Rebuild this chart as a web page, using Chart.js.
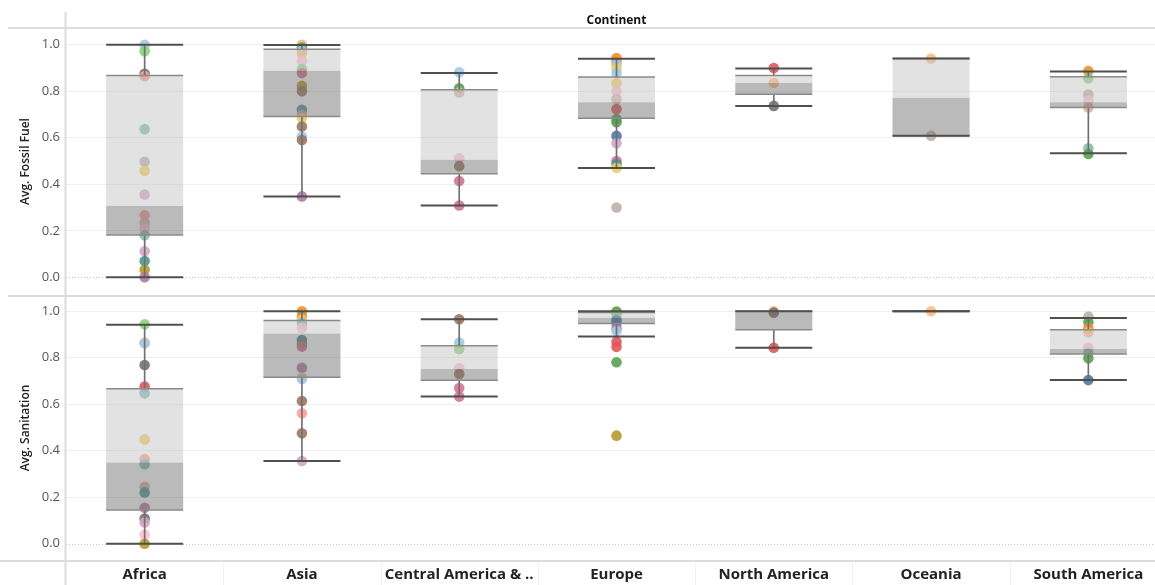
<!DOCTYPE html>
<html><head><meta charset="utf-8">
<script src="https://cdn.jsdelivr.net/npm/chart.js@4.4.1/dist/chart.umd.min.js"></script>
<style>
html,body{margin:0;padding:0;background:#fff;overflow:hidden;width:1155px;height:585px;}
#wrap{position:absolute;left:0;top:0;width:1167px;height:585px;}
#c1{position:absolute;left:0;top:0;}
#c2{position:absolute;left:0;top:295px;}
</style></head><body>
<div id="wrap"><canvas id="c1" width="1167" height="295"></canvas><canvas id="c2" width="1167" height="290"></canvas></div>
<script>
const continents = ['Africa','Asia','Central America & ..','Europe','North America','Oceania','South America'];
const yTicks = [0, 0.2, 0.4, 0.6, 0.8, 1.0];
// Tableau 20 colour keys (one per country)
const palette = ['#4e79a7','#a0cbe8','#f28e2b','#ffbe7d','#59a14f','#8cd17d','#b6992d','#f1ce63','#499894','#86bcb6',
                 '#e15759','#ff9d9a','#79706e','#bab0ac','#d37295','#fabfd2','#b07aa1','#d4a6c8','#9d7660','#d7b5a6'];

// ---- Avg. Fossil Fuel ----
const fossilValues = [
  [1.0,0.972,0.875,0.865,0.637,0.497,0.458,0.356,0.267,0.236,0.21,0.181,0.112,0.07,0.033,0.0],
  [1.0,0.995,0.988,0.975,0.962,0.93,0.895,0.878,0.823,0.80,0.72,0.698,0.685,0.648,0.605,0.59,0.348],
  [0.882,0.813,0.795,0.512,0.478,0.414,0.309],
  [0.943,0.928,0.915,0.897,0.878,0.835,0.80,0.766,0.723,0.681,0.667,0.608,0.576,0.50,0.487,0.471,0.30],
  [0.9,0.836,0.737],
  [0.941,0.609],
  [0.887,0.856,0.786,0.76,0.73,0.555,0.530]
];
const fossilColors = [
  [1,5,12,11,9,13,7,17,11,19,15,9,17,8,6,16],
  [19,3,4,1,3,15,5,14,6,18,8,17,7,18,1,18,16],
  [1,4,19,15,18,14,14],
  [2,2,1,7,1,7,15,19,10,4,4,0,17,14,8,7,13],
  [10,3,12],
  [3,13],
  [2,5,13,15,19,9,4]
];
const fossilMin    = [0.0,   0.348, 0.309, 0.470, 0.737, 0.609, 0.533];
const fossilQ1     = [0.182, 0.691, 0.445, 0.684, 0.787, 0.609, 0.730];
const fossilMedian = [0.307, 0.888, 0.506, 0.753, 0.836, 0.772, 0.753];
const fossilQ3     = [0.868, 0.981, 0.806, 0.861, 0.868, 0.941, 0.862];
const fossilMax    = [1.0,   0.999, 0.878, 0.940, 0.898, 0.941, 0.885];

// ---- Avg. Sanitation ----
const sanitationValues = [
  [0.944,0.866,0.862,0.769,0.676,0.647,0.449,0.364,0.342,0.245,0.221,0.155,0.109,0.092,0.040,0.0],
  [1.0,0.977,0.965,0.948,0.927,0.876,0.859,0.848,0.757,0.715,0.709,0.614,0.561,0.475,0.356],
  [0.966,0.865,0.838,0.755,0.73,0.670,0.633],
  [1.0,0.998,0.985,0.962,0.95,0.927,0.915,0.869,0.847,0.781,0.465],
  [1.0,0.994,0.843],
  [1.0],
  [0.977,0.953,0.927,0.91,0.843,0.819,0.798,0.704]
];
const sanitationColors = [
  [5,3,1,12,10,9,7,11,9,19,8,16,12,17,15,6],
  [2,6,3,9,15,0,4,14,16,7,1,18,11,18,17],
  [18,1,5,15,18,14,14],
  [3,4,5,0,0,16,1,10,10,4,6],
  [3,12,10],
  [3],
  [13,4,2,3,15,9,4,0]
];
const sanitationMin    = [0.0,   0.356, 0.634, 0.892, 0.843, 1.0, 0.704];
const sanitationQ1     = [0.145, 0.716, 0.703, 0.947, 0.921, 1.0, 0.816];
const sanitationMedian = [0.350, 0.904, 0.752, 0.972, 0.999, 1.0, 0.838];
const sanitationQ3     = [0.667, 0.960, 0.852, 0.995, 1.0,   1.0, 0.921];
const sanitationMax    = [0.942, 1.0,   0.966, 1.0,   1.0,   1.0, 0.971];

const FONT = "'Open Sans', 'Noto Sans', sans-serif";
const BOX_PCT = 0.49;
const CAP_R = 38.5;

function hexA(h, a){
  const r=parseInt(h.slice(1,3),16), g=parseInt(h.slice(3,5),16), b=parseInt(h.slice(5,7),16);
  return `rgba(${r},${g},${b},${a})`;
}

function paneDatasets(vals, cols, mn, q1, md, q3, mx){
  const pts = [], ptCols = [];
  vals.forEach((arr,i)=>arr.forEach((v,j)=>{ pts.push({x: continents[i], y: v}); ptCols.push(hexA(palette[cols[i][j]],0.9)); }));
  const edge = [], cap = [];
  continents.forEach((c,i)=>{ edge.push({x:c,y:q1[i]}, {x:c,y:q3[i]}); cap.push({x:c,y:mn[i]}, {x:c,y:mx[i]}); });
  return [
    {type:'scatter', data: pts, pointBackgroundColor: ptCols, pointBorderWidth:0, pointRadius:5.3, pointHoverRadius:5.3, order:10},
    {type:'bar', data: continents.map((c,i)=>[q1[i], md[i]]), backgroundColor:'rgba(110,110,110,0.48)', grouped:false, barPercentage:BOX_PCT, categoryPercentage:1, order:6},
    {type:'bar', data: continents.map((c,i)=>[md[i], q3[i]]), backgroundColor:'rgba(190,190,190,0.45)', grouped:false, barPercentage:BOX_PCT, categoryPercentage:1, order:5},
    {type:'bar', data: continents.map((c,i)=>[mn[i], q1[i]]), backgroundColor:'#707070', grouped:false, barThickness:1, order:4},
    {type:'bar', data: continents.map((c,i)=>[q3[i], mx[i]]), backgroundColor:'#707070', grouped:false, barThickness:1, order:4},
    {type:'scatter', data: edge, pointStyle:'line', pointRadius:CAP_R, pointHoverRadius:CAP_R, pointBorderColor:'#8a8a8a', pointBorderWidth:1.5, order:3},
    {type:'scatter', data: cap, pointStyle:'line', pointRadius:CAP_R, pointHoverRadius:CAP_R, pointBorderColor:'#4f4f4f', pointBorderWidth:2, order:2}
  ];
}

function framePlugin(isTop){
  return {
    id:'frame'+(isTop?'T':'B'),
    beforeDatasetsDraw(chart){
      const {ctx, chartArea:a} = chart;
      const y0 = chart.scales.y.getPixelForValue(0);
      ctx.save();
      ctx.strokeStyle = '#c4c4c4'; ctx.lineWidth = 1; ctx.setLineDash([1,2]);
      ctx.beginPath(); ctx.moveTo(a.left, Math.round(y0)+0.5); ctx.lineTo(a.right, Math.round(y0)+0.5); ctx.stroke();
      ctx.restore();
    },
    afterDraw(chart){
      const {ctx, chartArea:a, width, height} = chart;
      ctx.save();
      ctx.strokeStyle = '#dcdcdc'; ctx.lineWidth = 2;
      ctx.beginPath();
      if (isTop){
        ctx.moveTo(8, a.top); ctx.lineTo(width, a.top);
        ctx.moveTo(a.left-0.5, 12); ctx.lineTo(a.left-0.5, height);
      } else {
        ctx.moveTo(8, a.top+1); ctx.lineTo(width, a.top+1);
        ctx.moveTo(0, a.bottom); ctx.lineTo(width, a.bottom);
        ctx.moveTo(a.left-0.5, 0); ctx.lineTo(a.left-0.5, height);
      }
      ctx.stroke();
      if (!isTop){
        const xs = chart.scales.x;
        ctx.strokeStyle = '#f0f0f0'; ctx.lineWidth = 1;
        ctx.beginPath();
        for (let i=1;i<continents.length;i++){
          const x = Math.round((xs.getPixelForValue(i-1)+xs.getPixelForValue(i))/2)+0.5;
          ctx.moveTo(x, a.bottom+2); ctx.lineTo(x, height);
        }
        ctx.stroke();
      }
      ctx.restore();
    }
  };
}

function makeChart(id, isTop, title, ds, ymin, ymax){
  return new Chart(document.getElementById(id), {
    type:'bar',
    data:{ labels: continents, datasets: ds },
    options:{
      responsive:false, animation:false, devicePixelRatio:1,
      layout:{padding:0, autoPadding:false},
      plugins:{
        legend:{display:false}, tooltip:{enabled:false},
        title:{display:isTop, text:'Continent', fullSize:false, color:'#111',
               font:{family:FONT, size:12, weight:'bold'}, padding:{top:13, bottom:0.6}}
      },
      scales:{
        x:{type:'category', labels:continents, offset:true, display:!isTop,
           grid:{display:false, drawTicks:false}, border:{display:false},
           ticks:{autoSkip:false, maxRotation:0, padding:5, color:'#222', font:{family:FONT, size:15, weight:'bold'}},
           afterFit:s=>{ if (!isTop) s.height=24; s.paddingLeft=0; s.paddingRight=0; }},
        y:{type:'linear', min:ymin, max:ymax,
           afterBuildTicks:s=>{s.ticks = yTicks.map(v=>({value:v}));},
           ticks:{callback:v=>Number(v).toFixed(1), padding:6, color:'#555', font:{family:FONT, size:13}},
           grid:{drawTicks:false, lineWidth:1, color:c=> (c.tick && c.tick.value===0) ? 'rgba(0,0,0,0)' : '#efefef'},
           border:{display:false},
           title:{display:true, text:title, color:'#222', font:{family:FONT, size:12, weight:'600'}, padding:{top:18,bottom:0}},
           afterFit:s=>{ s.width=66; s.paddingTop=0; s.paddingBottom=0; }}
      }
    },
    plugins:[framePlugin(isTop)]
  });
}

makeChart('c1', true, 'Avg. Fossil Fuel',
  paneDatasets(fossilValues, fossilColors, fossilMin, fossilQ1, fossilMedian, fossilQ3, fossilMax), -0.076, 1.072);
makeChart('c2', false, 'Avg. Sanitation',
  paneDatasets(sanitationValues, sanitationColors, sanitationMin, sanitationQ1, sanitationMedian, sanitationQ3, sanitationMax), -0.074, 1.07);
</script>
</body></html>
